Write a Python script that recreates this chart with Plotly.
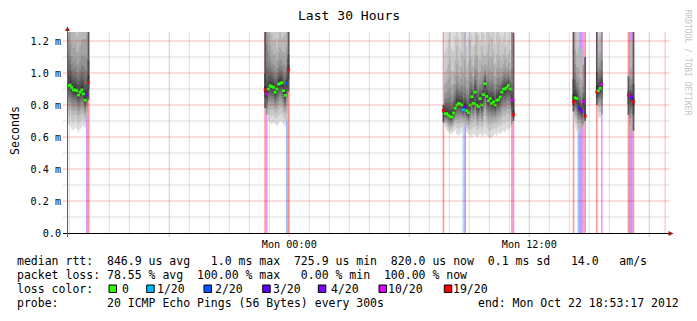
import numpy as np
import plotly.graph_objects as go

# ---------------- data ----------------
# time axis in hours relative to Mon 00:00, 5-minute slots (slot 0 = Mon 00:00)
SEG_START_SLOT = [-133, -15, 92, 170, 184, 203]

MEDIAN_MS = [
    [0.92, 0.925, 0.91, 0.894, 0.894, 0.89, 0.862, 0.88, 0.894, 0.87, 0.83, 0.867, 0.94],
    [0.894, 0.87, 0.90, 0.92, 0.915, 0.91, 0.88, 0.90, 0.93, 0.935, 0.94, 0.89, 0.86, 0.935, 1.02],
    [0.767, 0.746, 0.746, 0.735, 0.728, 0.725, 0.75, 0.78, 0.80, 0.81,
     0.806, 0.80, 0.77, 0.79, 0.765, 0.752, 0.80, 0.852, 0.81, 0.88,
     0.80, 0.79, 0.84, 0.80, 0.865, 0.933, 0.854, 0.827, 0.84, 0.81,
     0.82, 0.80, 0.83, 0.833, 0.85, 0.88, 0.90, 0.90, 0.91, 0.923,
     0.90, 0.83, 0.74],
    [0.82, 0.845, 0.84, 0.79, 0.775, 0.76, 0.82, 0.73],
    [0.88, 0.89, 0.905, 0.93],
    [0.86, 0.855, 0.845, 0.82],
]

LOST_PINGS = [
    [0, 0, 0, 0, 0, 0, 0, 0, 0, 0, 0, 4, 13],
    [14, 8, 0, 0, 0, 0, 0, 0, 0, 0, 0, 0, 0, 2, 13],
    [16, 0, 0, 0, 0, 0, 0, 0, 0, 0,
     0, 0, 1, 3, 0, 0, 0, 0, 0, 0,
     0, 0, 0, 0, 0, 0, 0, 0, 0, 0,
     0, 0, 0, 0, 0, 0, 0, 0, 0, 0,
     0, 8, 14],
    [13, 0, 0, 2, 3, 4, 8, 14],
    [13, 0, 0, 8],
    [13, 4, 3, 14],
]

SMOKE_LOW_MS = [
    [0.68, 0.67, 0.65, 0.64, 0.66, 0.65, 0.63, 0.65, 0.66, 0.67, 0.66, 0.72, 0.73],
    [0.78, 0.74, 0.70, 0.69, 0.68, 0.69, 0.68, 0.67, 0.68, 0.70, 0.69, 0.68, 0.67, 0.70, 0.75],
    [0.69, 0.66, 0.64, 0.63, 0.62, 0.62, 0.63, 0.64, 0.62, 0.61,
     0.62, 0.63, 0.64, 0.64, 0.63, 0.62, 0.61, 0.60, 0.62, 0.61,
     0.60, 0.61, 0.62, 0.60, 0.61, 0.62, 0.61, 0.60, 0.59, 0.60,
     0.61, 0.62, 0.61, 0.63, 0.62, 0.63, 0.64, 0.63, 0.65, 0.64,
     0.66, 0.68, 0.70],
    [0.70, 0.66, 0.64, 0.62, 0.63, 0.63, 0.68, 0.70],
    [0.72, 0.72, 0.72, 0.74],
    [0.62, 0.62, 0.63, 0.64],
]

SMOKE_HIGH_MS = [
    [2.6, 2.3, 2.0, 1.9, 2.0, 1.8, 1.9, 2.0, 2.1, 2.2, 2.3, 1.6, 1.5],
    [1.4, 1.6, 2.2, 1.9, 1.8, 1.7, 1.8, 1.6, 1.7, 1.8, 1.7, 1.8, 1.9, 1.6, 1.4],
    [0.80, 1.45, 1.5, 1.6, 1.7, 1.5, 1.45, 1.6, 1.8, 1.55,
     1.45, 1.7, 1.4, 1.35, 1.5, 1.6, 1.9, 1.55, 1.45, 1.7,
     2.0, 1.6, 1.5, 1.8, 1.55, 1.4, 1.6, 1.8, 1.55, 1.9,
     1.7, 1.5, 1.6, 1.8, 1.55, 1.45, 1.5, 1.6, 1.4, 1.45,
     1.35, 1.3, 1.25],
    [1.4, 2.0, 1.6, 1.5, 1.15, 1.15, 1.05, 1.1],
    [1.4, 1.7, 1.8, 1.3],
    [0.98, 1.2, 1.2, 1.4],
]

PINGS = 20
LOSS_THRESHOLDS = [0, 1, 2, 3, 4, 10, 19]
LOSS_LABELS = ["0", "1/20", "2/20", "3/20", "4/20", "10/20", "19/20"]
LOSS_COLORS = ["#26ff00", "#00b8ff", "#0059ff", "#5e00ff", "#7e00ff", "#dd00ff", "#ff0000"]

X_TICK_HOURS = [0, 12]
X_TICK_TEXT = ["Mon 00:00", "Mon 12:00"]
Y_TICK_VALS = [0.0, 0.2, 0.4, 0.6, 0.8, 1.0, 1.2]
Y_TICK_TEXT = ["0.0", "0.2 m", "0.4 m", "0.6 m", "0.8 m", "1.0 m", "1.2 m"]

TITLE = "Last 30 Hours"
Y_TITLE = "Seconds"
LINE_RTT = "median rtt:  846.9 us avg   1.0 ms max  725.9 us min  820.0 us now  0.1 ms sd   14.0   am/s"
LINE_LOSS = "packet loss: 78.55 % avg  100.00 % max   0.00 % min  100.00 % now"
LINE_COLOR = "loss color:"
LINE_PROBE = "probe:       20 ICMP Echo Pings (56 Bytes) every 300s"
LINE_END = "end: Mon Oct 22 18:53:17 2012"
WATERMARK = "RRDTOOL / TOBI OETIKER"

# ---------------- layout constants ----------------
W, H = 697, 321
ML, MR, MT, MB = 67, 30, 32, 88
PW, PH = W - ML - MR, H - MT - MB
X_RANGE = [-11.115, 18.885]
Y_TOP = PH / 160.0
STEP_H = 5.0 / 60.0
MONO = "DejaVu Sans Mono"
LEG_SIZE = 11.5

# smoke shape: relative position of sorted pings below / above the median
LOWER_FRAC = [1.0, 0.8, 0.64, 0.52, 0.42, 0.33, 0.25, 0.17, 0.10, 0.04]
UPPER_FRAC = [0.015, 0.04, 0.065, 0.095, 0.13, 0.18, 0.26, 0.37, 0.55, 1.0]
GRAYS = [int(190 / 10 * (10 - i)) + 50 for i in range(1, 11)]
BAR_ALPHA = 0.4


def loss_bin(lost):
    for k, t in enumerate(LOSS_THRESHOLDS):
        if lost <= t:
            return k
    return len(LOSS_THRESHOLDS) - 1


def hex_rgba(h, a):
    r, g, b = int(h[1:3], 16), int(h[3:5], 16), int(h[5:7], 16)
    return f"rgba({r},{g},{b},{a})"


def received_pings(lo, med, hi, received):
    tmpl = [med - (med - lo) * f for f in LOWER_FRAC] + [med + (hi - med) * f for f in UPPER_FRAC]
    if received >= PINGS:
        return list(tmpl)
    pos = np.linspace(0, PINGS - 1, received)
    return list(np.interp(pos, np.arange(PINGS), tmpl))


def step_polygons(items):
    """items: list of (slot, bottom, top) -> x, y lists of step polygons (None separated)."""
    items = sorted(items)
    runs, cur = [], []
    for it in items:
        if cur and it[0] != cur[-1][0] + 1:
            runs.append(cur)
            cur = []
        cur.append(it)
    if cur:
        runs.append(cur)
    xs, ys = [], []
    for run in runs:
        top_x, top_y, bot_x, bot_y = [], [], [], []
        for slot, b, t in run:
            x0, x1 = slot * STEP_H, (slot + 1) * STEP_H
            t = min(t, Y_TOP + 0.05)
            b = min(b, Y_TOP + 0.05)
            top_x += [x0, x1]
            top_y += [t, t]
            bot_x += [x0, x1]
            bot_y += [b, b]
        xs += top_x + bot_x[::-1] + [top_x[0], None]
        ys += top_y + bot_y[::-1] + [top_y[0], None]
    return xs, ys


# ---------------- build series ----------------
layer_items = [[] for _ in range(10)]
bar_items = [[] for _ in LOSS_COLORS]
med_x, med_y, med_c = [], [], []

for s, start in enumerate(SEG_START_SLOT):
    for j, med in enumerate(MEDIAN_MS[s]):
        slot = start + j
        lost = LOST_PINGS[s][j]
        b = loss_bin(lost)
        med_x.append((slot + 0.5) * STEP_H)
        med_y.append(med)
        med_c.append(LOSS_COLORS[b])
        if lost > 0:
            bar_items[b].append((slot, 0.0, Y_TOP + 0.05))
        rec = PINGS - lost
        p = received_pings(SMOKE_LOW_MS[s][j], med, SMOKE_HIGH_MS[s][j], rec)
        lp = lost // 2
        for i in range(1, 11):
            a, c = i - lp, PINGS + 1 - i - lp
            if a >= 1 and c <= rec and a < c:
                layer_items[i - 1].append((slot, p[a - 1], p[c - 1]))

fig = go.Figure()

for k, items in enumerate(bar_items):
    if not items:
        continue
    xs, ys = step_polygons(items)
    fig.add_trace(go.Scatter(x=xs, y=ys, mode="lines", fill="toself",
                             fillcolor=hex_rgba(LOSS_COLORS[k], BAR_ALPHA),
                             line=dict(width=0), hoverinfo="skip", showlegend=False))

for i in range(10):
    g = GRAYS[i]
    xs, ys = step_polygons(layer_items[i])
    fig.add_trace(go.Scatter(x=xs, y=ys, mode="lines", fill="toself",
                             fillcolor=f"rgb({g},{g},{g})",
                             line=dict(width=0), hoverinfo="skip", showlegend=False))

fig.add_trace(go.Scatter(
    x=med_x, y=med_y, mode="markers",
    marker=dict(symbol="square", size=2.8, color=med_c, line=dict(width=0)),
    hoverinfo="skip", showlegend=False))


def px(x):
    return (x - ML) / PW


def py(y):
    return (MT + PH - y) / PH


MAJOR = "rgba(235,0,0,0.28)"
MINOR = "rgba(128,128,128,0.26)"
shapes = []
for h in range(-11, 19):
    major = h % 6 == 0
    shapes.append(dict(type="line", xref="x", yref="paper", x0=h, x1=h,
                       y0=(-4 / PH if major else 0), y1=1,
                       line=dict(color=MAJOR if major else MINOR, width=1), layer="above"))
shapes.append(dict(type="line", xref="x", yref="paper", x0=18.79, x1=18.79, y0=0, y1=1,
                   line=dict(color=MAJOR, width=1), layer="above"))
for k in range(1, 13):
    v = k / 10
    major = k % 2 == 0
    shapes.append(dict(type="line", xref="paper", yref="y", x0=-4 / PW, x1=1 + 3 / PW, y0=v, y1=v,
                       line=dict(color=MAJOR if major else MINOR, width=1), layer="above"))
# axes
shapes.append(dict(type="line", xref="paper", yref="paper", x0=px(63), x1=px(669), y0=py(233.5), y1=py(233.5),
                   line=dict(color="#000000", width=1), layer="above"))
shapes.append(dict(type="line", xref="paper", yref="paper", x0=px(67.5), x1=px(67.5), y0=py(237), y1=py(29),
                   line=dict(color="#606060", width=1), layer="above"))
shapes.append(dict(type="path", xref="paper", yref="paper", layer="above",
                   path=f"M {px(65.0)} {py(31)} L {px(67.5)} {py(26.5)} L {px(70.0)} {py(31)} Z",
                   fillcolor="#9b1c1c", line=dict(width=0)))
shapes.append(dict(type="path", xref="paper", yref="paper", layer="above",
                   path=f"M {px(668.5)} {py(231)} L {px(673.5)} {py(233.5)} L {px(668.5)} {py(236)} Z",
                   fillcolor="#9b1c1c", line=dict(width=0)))

# legend colour boxes
BOX_X = [109, 146.7, 204, 262.7, 318.3, 379, 444.3]
LABEL_X = [120.5, 155.5, 213.5, 271.5, 329.5, 386.5, 452]
for k in range(len(LOSS_COLORS)):
    shapes.append(dict(type="rect", xref="paper", yref="paper",
                       x0=px(BOX_X[k]), x1=px(BOX_X[k] + 7.5), y0=py(292.5), y1=py(285),
                       fillcolor=LOSS_COLORS[k], line=dict(color="#000000", width=1), layer="above"))


def nb(t):
    return t.replace(" ", "\u00a0")


annotations = []


def ann(text, x, y, size, xanchor="left", color="#000000", angle=0):
    annotations.append(dict(text=nb(text), x=px(x), y=py(y), xref="paper", yref="paper",
                            xanchor=xanchor, yanchor="middle", showarrow=False, textangle=angle,
                            borderpad=0, font=dict(family=MONO, size=size, color=color)))


ann(TITLE, 349, 16, 13.05, xanchor="center")
ann(Y_TITLE, 15, 131, 11.6, xanchor="center", angle=-90)
ann(WATERMARK, 687.5, 62, 8, xanchor="center", color="#c4c4c4", angle=90)
ann(LINE_RTT, 16, 261, LEG_SIZE)
ann(LINE_LOSS, 16, 275, LEG_SIZE)
ann(LINE_COLOR, 16, 289, LEG_SIZE)
for k, lab in enumerate(LOSS_LABELS):
    ann(lab, LABEL_X[k], 289, LEG_SIZE)
ann(LINE_PROBE, 16, 303, LEG_SIZE)
ann(LINE_END, 680, 303, LEG_SIZE, xanchor="right")

fig.update_layout(
    width=W, height=H,
    margin=dict(l=ML, r=MR, t=MT, b=MB, pad=0),
    paper_bgcolor="#ffffff", plot_bgcolor="#ffffff",
    showlegend=False,
    font=dict(family=MONO, color="#000000"),
    xaxis=dict(range=X_RANGE, tickvals=X_TICK_HOURS, ticktext=X_TICK_TEXT,
               showgrid=False, zeroline=False, showline=False, ticks="", ticklabelstandoff=4,
               tickfont=dict(family=MONO, size=10.15, color="#000000"), fixedrange=True),
    yaxis=dict(range=[0, Y_TOP], tickvals=Y_TICK_VALS, ticktext=Y_TICK_TEXT,
               showgrid=False, zeroline=False, showline=False, ticks="", ticklabelstandoff=5,
               tickfont=dict(family=MONO, size=10.15, color="#000000"), fixedrange=True),
    shapes=shapes, annotations=annotations,
)

fig.write_html("out.html")
